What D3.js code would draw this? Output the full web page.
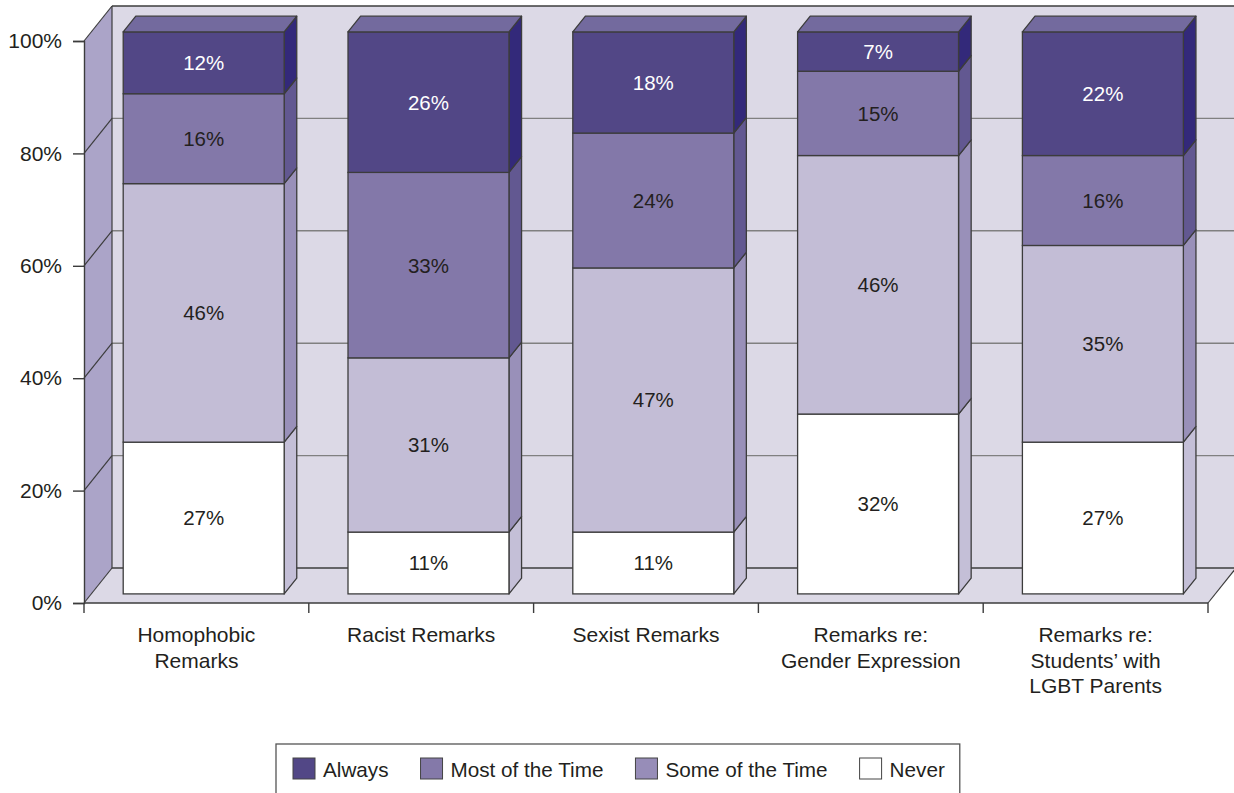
<!DOCTYPE html>
<html>
<head>
<meta charset="utf-8">
<script src="https://cdn.jsdelivr.net/npm/d3@7"></script>
<style>
  html, body { margin: 0; padding: 0; background: #fff; }
  svg { display: block; }
  text { font-family: "Liberation Sans", Arial, Helvetica, sans-serif; }
</style>
</head>
<body>
<svg id="chart" width="1234" height="793"></svg>
<script>
// ---- data ----
const categories = ["Homophobic\nRemarks", "Racist Remarks", "Sexist Remarks", "Remarks re:\nGender Expression", "Remarks re:\nStudents\u2019 with\nLGBT Parents"];
const seriesNames = ["Never", "Some of the Time", "Most of the Time", "Always"];
const never = [27, 11, 11, 32, 27];
const someOfTheTime = [46, 31, 47, 46, 35];
const mostOfTheTime = [16, 33, 24, 15, 16];
const always = [12, 26, 18, 7, 22];
const yTicks = [0, 20, 40, 60, 80, 100];
const legendOrder = ["Always", "Most of the Time", "Some of the Time", "Never"];

// ---- styles ----
const faceColors = {
  "Always":           { front: "#524786", side: "#33297a", top: "#736a9e", label: "#ffffff", legend: "#524786" },
  "Most of the Time": { front: "#8378a9", side: "#625891", top: "#9d93bd", label: "#231f20", legend: "#8479a9" },
  "Some of the Time": { front: "#c3bdd6", side: "#9990b9", top: "#d6d1e4", label: "#231f20", legend: "#978db8" },
  "Never":            { front: "#ffffff", side: "#c4bfd7", top: "#ffffff", label: "#231f20", legend: "#ffffff" }
};
const wallColor = "#dcd9e6", leftWallColor = "#aba4c8", edge = "#3c3c3c";
const FS = 21;

const rows = categories.map((c, i) => ({
  cat: c,
  "Never": never[i],
  "Some of the Time": someOfTheTime[i],
  "Most of the Time": mostOfTheTime[i],
  "Always": always[i]
}));

const svg = d3.select("#chart");

// geometry
const X0 = 84, X1 = 1208;
const DX = 28, DY = -35;          // full depth offset
const zf = 0.26, zb = 0.71;       // bar front/back depth fractions
const y = d3.scaleLinear().domain([0, 100]).range([603, 41]).clamp(true);
const x = d3.scaleBand().domain(categories).range([X0, X1]).paddingInner(0.284).paddingOuter(0.142);
const proj = (px, v, z) => [px + z * DX, y(v) + z * DY];
const pts = arr => arr.map(p => p.join(",")).join(" ");

// ---- walls ----
const g = svg.append("g");
g.append("rect").attr("x", X0 + DX).attr("y", y(100) + DY)
  .attr("width", 1234 - (X0 + DX) + 2).attr("height", y(0) - y(100))
  .attr("fill", wallColor);
g.append("polygon").attr("points", pts([[X0, y(0)], [X1, y(0)], [X1 + DX, y(0) + DY], [X0 + DX, y(0) + DY]]))
  .attr("fill", wallColor);
g.append("polygon").attr("points", pts([[X0, y(100)], [X0 + DX, y(100) + DY], [X0 + DX, y(0) + DY], [X0, y(0)]]))
  .attr("fill", leftWallColor);

g.selectAll(".grid").data(yTicks.filter(t => t > 0 && t < 100)).join("line")
  .attr("x1", X0 + DX).attr("x2", 1234)
  .attr("y1", d => y(d) + DY).attr("y2", d => y(d) + DY)
  .attr("stroke", "#808080").attr("stroke-width", 1.4);
g.selectAll(".diag").data(yTicks).join("line")
  .attr("x1", X0).attr("y1", d => y(d))
  .attr("x2", X0 + DX).attr("y2", d => y(d) + DY)
  .attr("stroke", edge).attr("stroke-width", 1.2);
g.append("line").attr("x1", X0 + DX).attr("x2", 1234).attr("y1", y(100) + DY).attr("y2", y(100) + DY)
  .attr("stroke", edge).attr("stroke-width", 1.4);
g.append("line").attr("x1", X0 + DX).attr("x2", X0 + DX).attr("y1", y(100) + DY).attr("y2", y(0) + DY)
  .attr("stroke", edge).attr("stroke-width", 1.2);
g.append("line").attr("x1", X0 + DX).attr("x2", 1234).attr("y1", y(0) + DY).attr("y2", y(0) + DY)
  .attr("stroke", edge).attr("stroke-width", 1.4);
g.append("line").attr("x1", X0).attr("x2", X1).attr("y1", y(0)).attr("y2", y(0))
  .attr("stroke", edge).attr("stroke-width", 1.4);
g.append("line").attr("x1", X1).attr("x2", X1 + DX).attr("y1", y(0)).attr("y2", y(0) + DY)
  .attr("stroke", edge).attr("stroke-width", 1.2);

// ---- y axis ----
const yAxis = d3.axisLeft(y).tickValues(yTicks).tickSize(11).tickPadding(11).tickFormat(d => d + "%");
const ya = svg.append("g").attr("transform", `translate(${X0},0)`).call(yAxis);
ya.select(".domain").attr("stroke", edge).attr("stroke-width", 1.4);
ya.selectAll(".tick line").attr("stroke", edge).attr("stroke-width", 1.4);
ya.selectAll(".tick text").attr("font-size", FS).attr("fill", "#231f20")
  .attr("font-family", "'Liberation Sans', Arial, sans-serif");

// ---- x axis ticks at band boundaries ----
const bounds = d3.range(categories.length + 1).map(i => X0 + i * x.step());
svg.selectAll(".xtick").data(bounds).join("line")
  .attr("x1", d => d).attr("x2", d => d).attr("y1", y(0)).attr("y2", y(0) + 10)
  .attr("stroke", edge).attr("stroke-width", 1.4);

const catG = svg.selectAll(".cat").data(categories).join("text")
  .attr("x", d => x(d) + x.bandwidth() / 2)
  .attr("y", 642)
  .attr("text-anchor", "middle").attr("font-size", FS).attr("fill", "#231f20");
catG.selectAll("tspan").data(d => d.split("\n")).join("tspan")
  .attr("x", function () { return d3.select(this.parentNode).attr("x"); })
  .attr("dy", (d, i) => i === 0 ? 0 : 25.5)
  .text(d => d);

// ---- bars ----
const stack = d3.stack().keys(seriesNames);
const layers = stack(rows);
const bw = x.bandwidth();
const barsG = svg.append("g");

categories.forEach((cat, ci) => {
  const bg = barsG.append("g");
  const x0 = x(cat), x1 = x0 + bw;
  layers.forEach((layer, li) => {
    const d = layer[ci];
    const v0 = d[0], v1 = d[1];
    const col = faceColors[layer.key];
    bg.append("polygon")
      .attr("points", pts([proj(x1, v1, zf), proj(x1, v1, zb), proj(x1, v0, zb), proj(x1, v0, zf)]))
      .attr("fill", col.side).attr("stroke", edge).attr("stroke-width", 1.3).attr("stroke-linejoin", "round");
    const pA = proj(x0, v1, zf), pB = proj(x1, v0, zf);
    bg.append("rect")
      .attr("x", pA[0]).attr("y", pA[1]).attr("width", pB[0] - pA[0]).attr("height", pB[1] - pA[1])
      .attr("fill", col.front).attr("stroke", edge).attr("stroke-width", 1.3);
    if (li === layers.length - 1) {
      bg.append("polygon")
        .attr("points", pts([proj(x0, v1, zf), proj(x0, v1, zb), proj(x1, v1, zb), proj(x1, v1, zf)]))
        .attr("fill", col.top).attr("stroke", edge).attr("stroke-width", 1.3).attr("stroke-linejoin", "round");
    }
    const val = rows[ci][layer.key];
    bg.append("text")
      .attr("x", (pA[0] + pB[0]) / 2)
      .attr("y", (pA[1] + pB[1]) / 2)
      .attr("dy", "0.36em")
      .attr("text-anchor", "middle").attr("font-size", 20.5)
      .attr("fill", col.label)
      .text(val + "%");
  });
});

// ---- legend ----
const legend = svg.append("g");
const lgX = 276, lgY = 744, sw = 22, sh = 21;
const box = legend.append("rect").attr("x", lgX).attr("y", lgY).attr("height", 70)
  .attr("fill", "#fff").attr("stroke", "#555").attr("stroke-width", 1.3);
let cx = lgX + 17;
legendOrder.forEach(name => {
  legend.append("rect").attr("x", cx).attr("y", lgY + 14).attr("width", sw).attr("height", sh)
    .attr("fill", faceColors[name].legend).attr("stroke", "#444").attr("stroke-width", 1);
  const t = legend.append("text").attr("x", cx + sw + 8).attr("y", lgY + 33)
    .attr("font-size", 20.7).attr("fill", "#231f20").text(name);
  const w = t.node().getComputedTextLength();
  cx = cx + sw + 8 + w + 32;
});
box.attr("width", cx - 32 + 15 - lgX);
</script>
</body>
</html>
